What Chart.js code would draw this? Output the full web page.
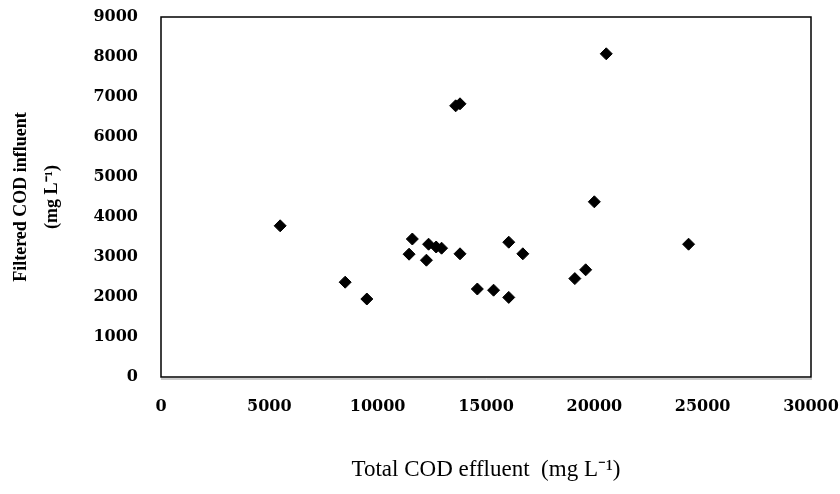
<!DOCTYPE html>
<html>
<head>
<meta charset="utf-8">
<script src="https://cdn.jsdelivr.net/npm/chart.js@4"></script>
<style>
  html, body { margin: 0; padding: 0; background: #fff; }
  #wrap { width: 840px; height: 494px; }
</style>
</head>
<body>
<div id="wrap"><canvas id="cod-chart" width="840" height="494"></canvas></div>
<script>
// Total COD effluent (x) vs filtered COD influent (y), mg/L
var totalCodEffluent = [5500, 8500, 9500, 11450, 11600, 12250, 12350, 12700, 12950, 13600, 13800, 13800,
  14600, 15350, 16050, 16050, 16700, 19100, 19600, 20000, 20550, 24350];
var filteredCodInfluent = [3780, 2370, 1950, 3070, 3450, 2920, 3320, 3250, 3220, 6780, 6830, 3080,
  2200, 2170, 3370, 1990, 3080, 2460, 2680, 4380, 8080, 3320];

var xTicks = [0, 5000, 10000, 15000, 20000, 25000, 30000];
var yTicks = [0, 1000, 2000, 3000, 4000, 5000, 6000, 7000, 8000, 9000];

var points = totalCodEffluent.map(function (x, i) {
  return { x: x, y: filteredCodInfluent[i] };
});

// box round the plot area
var frame = {
  id: 'frame',
  afterDraw: function (chart) {
    var a = chart.chartArea, c = chart.ctx;
    c.save();
    c.strokeStyle = '#000';
    c.lineWidth = 1.5;
    c.strokeRect(a.left, a.top, a.right - a.left, a.bottom - a.top);
    c.strokeStyle = '#999';
    c.lineWidth = 1;
    c.beginPath();
    c.moveTo(a.left, a.bottom + 2);
    c.lineTo(a.right + 1, a.bottom + 2);
    c.stroke();
    c.restore();
  }
};

var serif = 'Liberation Serif, Times New Roman, serif';
var tickFont = { family: 'DejaVu Serif, serif', size: 16, weight: 'bold' };
var plain = function (v) { return String(v); };

new Chart(document.getElementById('cod-chart'), {
  type: 'scatter',
  data: {
    datasets: [{
      data: points,
      pointStyle: 'rectRot',
      pointRadius: 6,
      backgroundColor: '#000',
      borderColor: '#000',
      borderWidth: 1
    }]
  },
  options: {
    responsive: false,
    animation: false,
    layout: { padding: { top: 17, right: 29, left: 0, bottom: 8 } },
    plugins: { legend: { display: false }, tooltip: { enabled: false } },
    scales: {
      x: {
        type: 'linear',
        min: 0,
        max: 30000,
        afterBuildTicks: function (axis) { axis.ticks = xTicks.map(function (v) { return { value: v }; }); },
        afterFit: function (axis) { axis.height = 109; axis.paddingLeft = 0; axis.paddingRight = 0; },
        grid: { display: false },
        border: { display: false },
        ticks: {
          color: '#000',
          padding: 12,
          maxRotation: 0,
          callback: plain,
          font: tickFont
        },
        title: {
          display: true,
          text: 'Total COD effluent  (mg L\u207B\u00B9)',
          color: '#000',
          font: { family: serif, size: 23 },
          padding: { top: 4, bottom: 2 }
        }
      },
      y: {
        type: 'linear',
        min: 0,
        max: 9000,
        afterBuildTicks: function (axis) { axis.ticks = yTicks.map(function (v) { return { value: v }; }); },
        afterFit: function (axis) { axis.width = 161; axis.paddingTop = 0; axis.paddingBottom = 0; },
        grid: { display: false },
        border: { display: false },
        ticks: {
          color: '#000',
          padding: 15,
          callback: plain,
          font: tickFont
        },
        title: {
          display: true,
          text: ['Filtered COD influent', '(mg L\u207B\u00B9)'],
          color: '#000',
          font: { family: serif, size: 18, weight: 'bold', lineHeight: 1.7 },
          padding: { top: 6 }
        }
      }
    }
  },
  plugins: [frame]
});
</script>
</body>
</html>
